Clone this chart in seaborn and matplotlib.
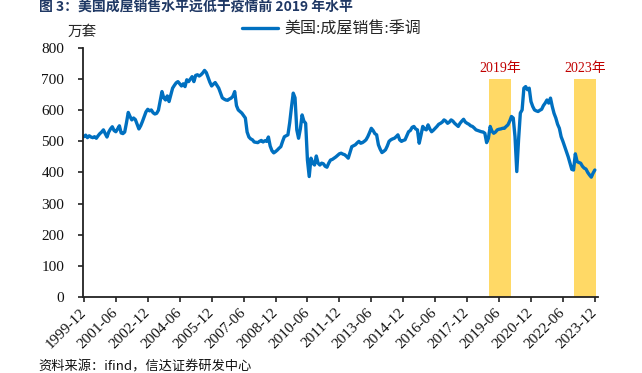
import numpy as np
import pandas as pd
import matplotlib
matplotlib.use("Agg")
import matplotlib.pyplot as plt
from matplotlib import font_manager as fm
import seaborn as sns

# ---- data (万套, monthly) ----
sales = [
    515,
    520, 512, 518, 514, 512, 515, 510, 518, 525, 530, 537, 525,
    514, 530, 540, 547, 535, 531, 540, 550, 527, 525, 530, 560,
    593, 580, 569, 575, 570, 555, 540, 550, 564, 580, 595, 603,
    598, 601, 592, 588, 590, 600, 630, 660, 640, 633, 646, 628,
    650, 671, 680, 688, 692, 685, 678, 685, 676, 698, 692, 700,
    708, 692, 712, 714, 710, 714, 720, 728, 721, 705, 690, 678,
    684, 689, 680, 671, 655, 640, 636, 633, 632, 636, 639, 645,
    660, 615, 601, 596, 591, 583, 575, 530, 514, 508, 505, 498,
    497, 496, 500, 503, 498, 502, 500, 514, 485, 470, 463, 467,
    472, 478, 483, 500, 515, 518, 521, 560, 610, 655, 640, 537,
    510, 540, 585, 565, 558, 440, 387, 446, 430, 424, 453, 430,
    424, 430, 428, 420, 417, 430, 440, 442, 446, 450, 455, 460,
    462, 459, 457, 452, 446, 465, 483, 486, 489, 495, 500, 494,
    496, 500, 505, 515, 528, 542, 535, 525, 521, 489, 475, 464,
    468, 473, 485, 500, 505, 508, 510, 515, 521, 505, 500, 503,
    505, 518, 531, 535, 545, 548, 540, 537, 494, 520, 548, 540,
    537, 553, 540, 531, 536, 542, 548, 555, 558, 562, 569, 565,
    558, 562, 569, 565, 558, 553, 548, 558, 565, 571, 562, 558,
    555, 550, 548, 543, 537, 535, 533, 531, 530, 526, 496, 510,
    548, 533, 526, 530, 537, 539, 540, 542, 542, 548, 553, 565,
    580, 575, 515, 403, 505, 591, 601, 671, 676, 666, 671, 628,
    612, 601, 598, 596, 600, 603, 615, 623, 633, 623, 639, 612,
    590, 575, 555, 542, 515, 500, 483, 467, 450, 430, 410, 408,
    460, 435, 432, 430, 420, 414, 411, 400, 392, 385, 398, 408,
]
months = pd.period_range("1999-12", periods=len(sales), freq="M").strftime("%Y-%m").tolist()
tick_labels = ["1999-12", "2001-06", "2002-12", "2004-06", "2005-12", "2007-06",
               "2008-12", "2010-06", "2011-12", "2013-06", "2014-12", "2016-06",
               "2017-12", "2019-06", "2020-12", "2022-06", "2023-12"]
highlight_labels = ["2019年", "2023年"]
highlight_ranges = [("2019-01", "2019-12"), ("2023-01", "2023-12")]
series_name = "美国:成屋销售:季调"

df = pd.DataFrame({"month": months, "pos": np.arange(len(sales)), "sales": sales})

sns.set_style("ticks")
SERIF = ["Liberation Serif", "Noto Sans CJK SC"]
plt.rcParams["font.family"] = SERIF
plt.rcParams["axes.unicode_minus"] = False

serif_path = fm.findfont(fm.FontProperties(family="Liberation Serif"))
tick_fp = fm.FontProperties(fname=serif_path, size=11)

fig = plt.figure(figsize=(6.42, 3.73), dpi=100)
ax = fig.add_axes([0.1293, 0.2038, 0.8014, 0.6675])

pos_of = {m: i for i, m in enumerate(months)}
for lab, (a, b) in zip(highlight_labels, highlight_ranges):
    x0 = pos_of[a] - 0.5
    x1 = pos_of[b] + 0.5
    ax.axvspan(x0, x1, ymin=0, ymax=700 / 800, color="#FFD966", lw=0, zorder=1)
    ax.text((x0 + x1) / 2, 712, lab, color="#C00000", fontsize=10,
            ha="center", va="bottom", zorder=3, family=SERIF)

sns.lineplot(data=df, x="pos", y="sales", ax=ax, color="#0070C0", lw=2.4,
             label=series_name, zorder=2)

ax.set_xlim(-0.5, len(sales) + 0.5)
ax.set_ylim(0, 800)
ax.set_yticks(np.arange(0, 801, 100))
ax.set_yticklabels([str(v) for v in range(0, 801, 100)], fontproperties=tick_fp)
ticks = [pos_of[t] for t in tick_labels]
ax.set_xticks(ticks)
ax.set_xticklabels(tick_labels, rotation=45, ha="right", va="center",
                   rotation_mode="anchor", fontproperties=tick_fp)
ax.set_xlabel("")
ax.set_ylabel("")
for s in ["top", "right"]:
    ax.spines[s].set_visible(False)
for s in ["left", "bottom"]:
    ax.spines[s].set_linewidth(1.3)
    ax.spines[s].set_color("#222222")
ax.tick_params(axis="both", direction="out", length=3.5, width=1.2, color="#222222",
               labelcolor="#111111")
ax.tick_params(axis="y", pad=10)
ax.tick_params(axis="x", pad=6)

ax.legend(loc="upper center", bbox_to_anchor=(0.483, 1.165), frameon=False,
          handlelength=2.2, handletextpad=0.4,
          prop={"family": SERIF, "size": 11.5})

fig.text(0.105, 0.915, "万套", fontsize=10.5, ha="left", va="center",
         family=["Noto Sans CJK SC"])
fig.text(0.06, 0.982, "图 3：美国成屋销售水平远低于疫情前 2019 年水平", fontsize=10,
         fontweight="bold", color="#1F3864", ha="left", va="center",
         family=["Noto Sans CJK SC", "DejaVu Sans"])
fig.text(0.06, 0.0, "资料来源：ifind，信达证券研发中心", fontsize=9.5, style="italic",
         ha="left", va="bottom", family=["Noto Sans CJK SC", "DejaVu Sans"],
         color="#111111")

fig.savefig("out.png", dpi=100)
